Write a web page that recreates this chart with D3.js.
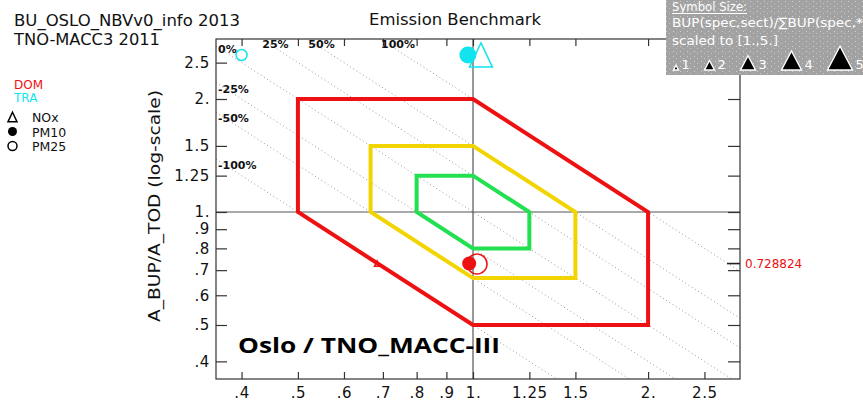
<!DOCTYPE html>
<html>
<head>
<meta charset="utf-8">
<script src="https://cdn.jsdelivr.net/npm/d3@7"></script>
<style>
  html, body { margin: 0; padding: 0; background: #fff; }
  svg { display: block; }
  text { font-family: "DejaVu Sans", "Liberation Sans", sans-serif; }
</style>
</head>
<body>
<svg id="chart" width="863" height="406"></svg>
<script>
// ---- data -------------------------------------------------------------
const tickValues = [0.4, 0.5, 0.6, 0.7, 0.8, 0.9, 1, 1.25, 1.5, 2, 2.5];
const tickLabels = [".4", ".5", ".6", ".7", ".8", ".9", "1.", "1.25", "1.5", "2.", "2.5"];

// diagonal reference lines: x * y = level
const isoLevels = [0.5, 2 / 3, 0.8, 1, 1.25, 1.5, 2];
const isoLabels = ["-100%", "-50%", "-25%", "0%", "25%", "50%", "100%"];

// benchmark polygons (x, y) in ratio units
const redZone = [[0.5, 2], [1, 2], [2, 1], [2, 0.5], [1, 0.5], [0.5, 1]];
const yellowZone = [[2 / 3, 1.5], [1, 1.5], [1.5, 1], [1.5, 2 / 3], [1, 2 / 3], [2 / 3, 1]];
const greenZone = [[0.8, 1.25], [1, 1.25], [1.25, 1], [1.25, 0.8], [1, 0.8], [0.8, 1]];

// sectors and species
const sectors = ["DOM", "TRA"];
const sectorColors = ["#ee1111", "#11e4ee"];
const species = ["NOx", "PM10", "PM25"];
const speciesShapes = ["triangle", "dot", "circle"];

// per point: sector, species, x ratio, y ratio, symbol size (1..5)
const pointSector = ["DOM", "DOM", "DOM", "TRA", "TRA", "TRA"];
const pointSpecies = ["NOx", "PM10", "PM25", "NOx", "PM10", "PM25"];
const pointX = [0.684, 0.985, 1.016, 1.032, 0.98, 0.40];
const pointY = [0.7288, 0.7288, 0.727, 2.62, 2.62, 2.62];
const pointSize = [1.0, 2.8, 4.0, 4.6, 3.4, 2.2];

const markedValue = 0.728824;
const symbolLegendSizes = [1, 2, 3, 4, 5];

// ---- layout -----------------------------------------------------------
const svg = d3.select("#chart");
const L = 216, R = 740, T = 39, B = 379;

const x = d3.scaleLog().domain([0.3615, 2.878]).range([L, R]);
const y = d3.scaleLog().domain([0.359, 2.89]).range([B, T]);

const defs = svg.append("defs");
defs.append("clipPath").attr("id", "plotClip")
  .append("rect").attr("x", L).attr("y", T).attr("width", R - L).attr("height", B - T);

// ---- diagonal reference lines ----------------------------------------
const isoG = svg.append("g").attr("clip-path", "url(#plotClip)");
const [x0, x1] = x.domain();
isoLevels.forEach(c => {
  isoG.append("line")
    .attr("x1", x(x0)).attr("y1", y(c / x0))
    .attr("x2", x(x1)).attr("y2", y(c / x1))
    .attr("stroke", "#999").attr("stroke-width", 1)
    .attr("stroke-dasharray", "1,2.8");
});

// ---- the 1:1 cross ----------------------------------------------------
svg.append("line").attr("x1", x(1)).attr("x2", x(1)).attr("y1", T).attr("y2", B)
  .attr("stroke", "#555").attr("stroke-width", 1.2);
svg.append("line").attr("x1", L).attr("x2", R).attr("y1", y(1)).attr("y2", y(1))
  .attr("stroke", "#555").attr("stroke-width", 1.2);

// ---- benchmark polygons -----------------------------------------------
const poly = d3.line().x(d => x(d[0])).y(d => y(d[1])).curve(d3.curveLinearClosed);
[[redZone, "#ee1111"], [yellowZone, "#f2d400"], [greenZone, "#22e050"]].forEach(([pts, col]) => {
  svg.append("path").attr("d", poly(pts))
    .attr("fill", "none").attr("stroke", col).attr("stroke-width", 4)
    .attr("stroke-linejoin", "miter");
});

// ---- frame & axes -----------------------------------------------------
svg.append("rect").attr("x", L).attr("y", T).attr("width", R - L).attr("height", B - T)
  .attr("fill", "none").attr("stroke", "#333").attr("stroke-width", 1.2);

const fmt = v => tickLabels[tickValues.indexOf(v)];

const xBottom = d3.axisBottom(x).tickValues(tickValues).tickFormat(fmt).tickSizeInner(-7).tickSizeOuter(0).tickPadding(8);
const xTop = d3.axisTop(x).tickValues(tickValues).tickFormat("").tickSizeInner(-7).tickSizeOuter(0);
const yLeft = d3.axisLeft(y).tickValues(tickValues).tickFormat(fmt).tickSizeInner(-11).tickSizeOuter(0).tickPadding(6);
const yRight = d3.axisRight(y).tickValues(tickValues).tickFormat("").tickSizeInner(-12).tickSizeOuter(0);

function styleAxis(g) {
  g.select(".domain").remove();
  g.selectAll(".tick line").attr("stroke", "#333").attr("stroke-width", 1.2);
  g.selectAll(".tick text").attr("fill", "#111")
    .style("font-family", "'DejaVu Sans', sans-serif")
    .style("font-size", "15px").style("letter-spacing", "0.6px");
}
svg.append("g").attr("transform", `translate(0,${B})`).call(xBottom).call(styleAxis);
svg.append("g").attr("transform", `translate(0,${T})`).call(xTop).call(styleAxis);
svg.append("g").attr("transform", `translate(${L},0)`).call(yLeft).call(styleAxis);
svg.append("g").attr("transform", `translate(${R},0)`).call(yRight).call(styleAxis);

// marked value on the right axis
svg.append("line").attr("x1", R - 13).attr("x2", R).attr("y1", y(markedValue)).attr("y2", y(markedValue))
  .attr("stroke", "#222").attr("stroke-width", 1.6);
svg.append("text").attr("x", R + 5).attr("y", y(markedValue) + 4)
  .attr("fill", "#ee1111").style("font-size", "12px")
  .text(String(markedValue));

// ---- iso line labels --------------------------------------------------
isoLevels.forEach((c, i) => {
  const yAtLeft = c / x0;
  let tx, ty;
  if (yAtLeft <= y.domain()[1]) {
    tx = L + 2;
    ty = y(yAtLeft) + (c < 1 ? 10 : 7);
  } else {
    tx = x(c / y.domain()[1]) + 1;
    ty = T + 9;
  }
  svg.append("text").attr("x", tx).attr("y", ty)
    .attr("fill", "#111").style("font-size", "11px").style("font-weight", "bold")
    .text(isoLabels[i]);
});

// ---- points -----------------------------------------------------------
const symW = s => s * 5;
function drawSymbol(g, shape, cx, cy, w, color) {
  if (shape === "triangle") {
    const h = w * 1.05;
    g.append("path")
      .attr("d", `M${cx},${cy - h / 2}L${cx + w / 2},${cy + h / 2}L${cx - w / 2},${cy + h / 2}Z`)
      .attr("fill", "none").attr("stroke", color).attr("stroke-width", 1.5);
  } else if (shape === "dot") {
    g.append("circle").attr("cx", cx).attr("cy", cy).attr("r", w / 2).attr("fill", color);
  } else {
    g.append("circle").attr("cx", cx).attr("cy", cy).attr("r", w / 2)
      .attr("fill", "none").attr("stroke", color).attr("stroke-width", 1.5);
  }
}
const ptG = svg.append("g");
pointX.forEach((px, i) => {
  const col = sectorColors[sectors.indexOf(pointSector[i])];
  const shape = speciesShapes[species.indexOf(pointSpecies[i])];
  drawSymbol(ptG, shape, x(px), y(pointY[i]), symW(pointSize[i]), col);
});

// ---- titles -----------------------------------------------------------
svg.append("text").attr("x", 14).attr("y", 26).attr("fill", "#111")
  .attr("textLength", 226).attr("lengthAdjust", "spacingAndGlyphs")
  .style("font-size", "15px").text("BU_OSLO_NBVv0_info 2013");
svg.append("text").attr("x", 14).attr("y", 45).attr("fill", "#111")
  .attr("textLength", 146).attr("lengthAdjust", "spacingAndGlyphs")
  .style("font-size", "15px").text("TNO-MACC3 2011");
svg.append("text").attr("x", 455).attr("y", 25).attr("fill", "#111")
  .attr("text-anchor", "middle")
  .attr("textLength", 172).attr("lengthAdjust", "spacingAndGlyphs")
  .style("font-size", "16px").text("Emission Benchmark");

svg.append("text")
  .attr("transform", `translate(160,206) rotate(-90)`)
  .attr("text-anchor", "middle").attr("fill", "#111")
  .attr("textLength", 232).attr("lengthAdjust", "spacingAndGlyphs")
  .style("font-size", "15px").text("A_BUP/A_TOD (log-scale)");

svg.append("text").attr("x", 238).attr("y", 353).attr("fill", "#000")
  .attr("textLength", 262).attr("lengthAdjust", "spacingAndGlyphs")
  .style("font-family", "'Open Sans', 'Lato', sans-serif")
  .style("font-weight", "bold").style("font-size", "22px")
  .text("Oslo / TNO_MACC-III");

// ---- sector / species legend -----------------------------------------
sectors.forEach((s, i) => {
  svg.append("text").attr("x", 14).attr("y", 89 + i * 13).attr("fill", sectorColors[i])
    .style("font-size", "12px").text(s);
});
species.forEach((s, i) => {
  const cy = 117 + i * 14.5;
  drawSymbol(svg, speciesShapes[i], 12.5, cy, 9, "#000");
  svg.append("text").attr("x", 32).attr("y", cy + 5).attr("fill", "#111")
    .style("font-size", "12.5px").text(s);
});

// ---- symbol size box --------------------------------------------------
const pat = defs.append("pattern").attr("id", "speckle").attr("patternUnits", "userSpaceOnUse")
  .attr("width", 7).attr("height", 5);
pat.append("rect").attr("width", 7).attr("height", 5).attr("fill", "#a2a2a2");
pat.append("rect").attr("x", 1).attr("y", 1).attr("width", 1).attr("height", 1).attr("fill", "#cfcfcf");
pat.append("rect").attr("x", 4).attr("y", 3).attr("width", 1).attr("height", 1).attr("fill", "#c4c4c4");

const boxX = 666;
svg.append("rect").attr("x", boxX).attr("y", 0).attr("width", 863 - boxX).attr("height", 75)
  .attr("fill", "url(#speckle)");
svg.append("text").attr("x", 672).attr("y", 11).attr("fill", "#fff")
  .attr("textLength", 75).attr("lengthAdjust", "spacingAndGlyphs")
  .style("font-size", "12px").text("Symbol Size:");
svg.append("line").attr("x1", 672).attr("x2", 747).attr("y1", 13.5).attr("y2", 13.5)
  .attr("stroke", "#fff").attr("stroke-width", 1);
svg.append("text").attr("x", 672).attr("y", 27).attr("fill", "#fff")
  .attr("textLength", 196).attr("lengthAdjust", "spacingAndGlyphs")
  .style("font-size", "13px").text("BUP(spec,sect)/\u2211BUP(spec,*)");
svg.append("text").attr("x", 672).attr("y", 45).attr("fill", "#fff")
  .attr("textLength", 106).attr("lengthAdjust", "spacingAndGlyphs")
  .style("font-size", "13px").text("scaled to [1.,5.]");

// size key: each triangle followed by its number, laid out left to right
let keyCx = 676, prevHalf = 0;
symbolLegendSizes.forEach((s, i) => {
  const w = symW(s);
  if (i > 0) keyCx += prevHalf + 26 + w / 2;
  prevHalf = w / 2;
  const base = 70;
  const h = w * 0.95;
  svg.append("path")
    .attr("d", `M${keyCx},${base - h}L${keyCx + w / 2},${base}L${keyCx - w / 2},${base}Z`)
    .attr("fill", "#000").attr("stroke", "#fff").attr("stroke-width", 1.4);
  svg.append("text").attr("x", keyCx + w / 2 + 3).attr("y", 69).attr("fill", "#fff")
    .style("font-size", "13px").text(s);
});
</script>
</body>
</html>
